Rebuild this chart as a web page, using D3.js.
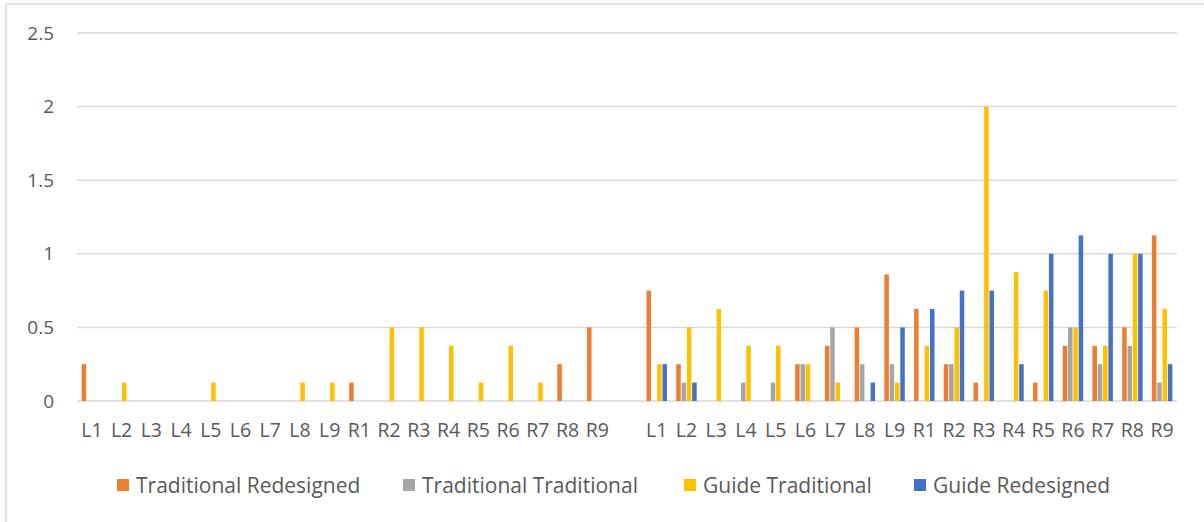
<!DOCTYPE html>
<html>
<head>
<meta charset="utf-8">
<script src="https://cdn.jsdelivr.net/npm/d3@7"></script>
<style>
  html, body { margin: 0; padding: 0; background: #fff; }
  svg { display: block; }
  text { font-family: "Open Sans", "Noto Sans", sans-serif; }
</style>
</head>
<body>
<svg id="chart" width="1204" height="522"></svg>
<script>
// ---- Data ----
const categories = [
  "L1","L2","L3","L4","L5","L6","L7","L8","L9","R1","R2","R3","R4","R5","R6","R7","R8","R9",
  "",
  "L1","L2","L3","L4","L5","L6","L7","L8","L9","R1","R2","R3","R4","R5","R6","R7","R8","R9"
];
const seriesNames = ["Traditional Redesigned", "Traditional Traditional", "Guide Traditional", "Guide Redesigned"];
const seriesColors = ["#ED7D31", "#A5A5A5", "#FFC000", "#4472C4"];

const traditionalRedesigned = [
  0.25,0,0,0,0,0,0,0,0,0.125,0,0,0,0,0,0,0.25,0.5,
  0,
  0.75,0.25,0,0,0,0.25,0.375,0.5,0.86,0.625,0.25,0.125,0,0.125,0.375,0.375,0.5,1.125
];
const traditionalTraditional = [
  0,0,0,0,0,0,0,0,0,0,0,0,0,0,0,0,0,0,
  0,
  0,0.125,0,0.125,0.125,0.25,0.5,0.25,0.25,0,0.25,0,0,0,0.5,0.25,0.375,0.125
];
const guideTraditional = [
  0,0.125,0,0,0.125,0,0,0.125,0.125,0,0.5,0.5,0.375,0.125,0.375,0.125,0,0,
  0,
  0.25,0.5,0.625,0.375,0.375,0.25,0.125,0,0.125,0.375,0.5,2.0,0.875,0.75,0.5,0.375,1.0,0.625
];
const guideRedesigned = [
  0,0,0,0,0,0,0,0,0,0,0,0,0,0,0,0,0,0,
  0,
  0.25,0.125,0,0,0,0,0,0.125,0.5,0.625,0.75,0.75,0.25,1.0,1.125,1.0,1.0,0.25
];
const yTicks = [0, 0.5, 1, 1.5, 2, 2.5];

const seriesValues = [traditionalRedesigned, traditionalTraditional, guideTraditional, guideRedesigned];

// ---- Layout ----
const svg = d3.select("#chart");
const plot = { left: 77, right: 1177, top: 33, bottom: 401 };

// chart border
svg.append("rect")
  .attr("x", 6).attr("y", 4).attr("width", 1220).attr("height", 540)
  .attr("fill", "none").attr("stroke", "#d9d9d9").attr("stroke-width", 1.5);

const x = d3.scaleBand()
  .domain(d3.range(categories.length))
  .range([plot.left, plot.right])
  .paddingInner(0).paddingOuter(0);

const xSub = d3.scaleBand()
  .domain(d3.range(seriesNames.length))
  .range([0, x.bandwidth()])
  .paddingInner(0)
  .paddingOuter(0.8);

const y = d3.scaleLinear().domain([0, 2.5]).range([plot.bottom, plot.top]);

// gridlines
svg.append("g")
  .selectAll("line")
  .data(yTicks)
  .join("line")
  .attr("x1", plot.left).attr("x2", plot.right)
  .attr("y1", d => y(d)).attr("y2", d => y(d))
  .attr("stroke", "#d9d9d9").attr("stroke-width", 1.5);

// y axis labels
const yAxis = d3.axisLeft(y).tickValues(yTicks).tickSize(0).tickPadding(0)
  .tickFormat(d => String(d));
svg.append("g")
  .attr("transform", `translate(${plot.left - 23},0)`)
  .call(yAxis)
  .call(g => g.select(".domain").remove())
  .call(g => g.selectAll("text")
    .attr("font-family", "'Open Sans', 'Noto Sans', sans-serif")
    .attr("font-size", 19).attr("fill", "#595959"));

// x axis labels
const xAxis = d3.axisBottom(x).tickSize(0).tickPadding(0)
  .tickFormat(i => categories[i]);
svg.append("g")
  .attr("transform", `translate(0,${plot.bottom + 22})`)
  .call(xAxis)
  .call(g => g.select(".domain").remove())
  .call(g => g.selectAll("text")
    .attr("font-family", "'Open Sans', 'Noto Sans', sans-serif")
    .attr("font-size", 19.5).attr("fill", "#595959"));

// bars
const barData = [];
seriesValues.forEach((vals, s) => {
  vals.forEach((v, i) => { if (v > 0) barData.push({ s, i, v }); });
});
svg.append("g")
  .selectAll("rect")
  .data(barData)
  .join("rect")
  .attr("x", d => x(d.i) + xSub(d.s) + 0.4)
  .attr("width", xSub.bandwidth() - 0.8)
  .attr("y", d => y(d.v))
  .attr("height", d => y(0) - y(d.v))
  .attr("fill", d => seriesColors[d.s]);

// legend
const legendX = [117, 403, 684, 914];
const legend = svg.append("g");
seriesNames.forEach((name, s) => {
  const g = legend.append("g").attr("transform", `translate(${legendX[s]},479)`);
  g.append("rect").attr("width", 12).attr("height", 12).attr("fill", seriesColors[s]);
  g.append("text").attr("x", 19).attr("y", 13.5)
    .attr("font-size", 21).attr("fill", "#595959")
    .text(name);
});
</script>
</body>
</html>
